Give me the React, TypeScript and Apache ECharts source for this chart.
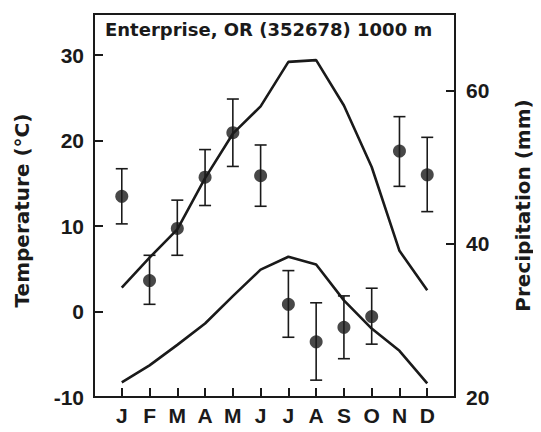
import React, { useEffect, useRef } from "react";
import * as echarts from "echarts";

const months = ["J", "F", "M", "A", "M", "J", "J", "A", "S", "O", "N", "D"];
const monthPos = [1, 2, 3, 4, 5, 6, 7, 8, 9, 10, 11, 12];
const tMax = [2.8, 6.3, 9.6, 15.6, 20.8, 24.0, 29.2, 29.4, 24.1, 16.9, 7.1, 2.5];
const tMin = [-8.3, -6.3, -3.9, -1.4, 1.8, 4.9, 6.4, 5.5, 1.3, -2.0, -4.6, -8.4];
const precip = [46.2, 35.2, 42.0, 48.7, 54.5, 48.9, 32.1, 27.2, 29.1, 30.5, 52.1, 49.0];
const precipHigh = [49.8, 38.5, 45.7, 52.3, 58.9, 52.9, 36.5, 32.3, 33.2, 34.2, 56.6, 53.9];
const precipLow = [42.6, 32.1, 38.5, 45.0, 50.1, 44.9, 27.8, 22.2, 25.0, 26.9, 47.5, 44.2];
const titleText = "Enterprise, OR (352678) 1000 m";

const FONT = "Liberation Sans, Arial, sans-serif";
const WIDE = "DejaVu Sans, Liberation Sans, sans-serif";
const INK = "#1a1a1a";

export default function App() {
  const ref = useRef<HTMLDivElement>(null);
  useEffect(() => {
    if (!ref.current) return;
    const chart = echarts.init(ref.current, undefined, { renderer: "svg" });
    const option: any = {
      animation: false,
      backgroundColor: "#ffffff",
      grid: {
        left: 94,
        right: 77,
        top: 14,
        bottom: 35,
        show: true,
        borderColor: INK,
        borderWidth: 2,
        backgroundColor: "transparent",
      },
      title: {
        text: titleText,
        left: 105,
        top: 20,
        padding: 0,
        textStyle: { fontFamily: WIDE, fontWeight: "bold", fontSize: 18, color: INK },
      },
      xAxis: {
        type: "value",
        min: 0,
        max: 13,
        axisLine: { show: true, onZero: false, lineStyle: { color: INK, width: 2 } },
        axisTick: {
          show: true,
          inside: true,
          length: 9,
          customValues: monthPos,
          lineStyle: { color: INK, width: 2 },
        },
        axisLabel: {
          customValues: monthPos,
          margin: 8,
          formatter: (v: number) => months[Math.round(v) - 1] ?? "",
          fontFamily: FONT,
          fontWeight: "bold",
          fontSize: 21,
          color: INK,
        },
        splitLine: { show: false },
      },
      yAxis: [
        {
          type: "value",
          min: -10,
          max: 34.8,
          interval: 10,
          name: "Temperature (°C)",
          nameLocation: "middle",
          nameGap: 62,
          nameTextStyle: {
            fontFamily: WIDE,
            fontWeight: "bold",
            fontSize: 20,
            color: INK,
            padding: [0, 10, 0, 0],
          },
          axisLine: { show: true, onZero: false, lineStyle: { color: INK, width: 2 } },
          axisTick: { show: true, inside: true, length: 9, lineStyle: { color: INK, width: 2 } },
          axisLabel: {
            margin: 10,
            formatter: (v: number) => (Math.abs(v % 10) < 1e-6 ? String(v) : ""),
            fontFamily: FONT,
            fontWeight: "bold",
            fontSize: 21,
            color: INK,
          },
          splitLine: { show: false },
        },
        {
          type: "value",
          min: 20,
          max: 70,
          interval: 20,
          position: "right",
          name: "Precipitation (mm)",
          nameLocation: "middle",
          nameGap: 58,
          nameRotate: 90,
          nameTextStyle: { fontFamily: WIDE, fontWeight: "bold", fontSize: 20, color: INK },
          axisLine: { show: true, onZero: false, lineStyle: { color: INK, width: 2 } },
          axisTick: { show: true, inside: true, length: 9, lineStyle: { color: INK, width: 2 } },
          axisLabel: {
            margin: 11,
            formatter: (v: number) => (Math.abs(v % 20) < 1e-6 ? String(v) : ""),
            fontFamily: FONT,
            fontWeight: "bold",
            fontSize: 21,
            color: INK,
          },
          splitLine: { show: false },
        },
      ],
      series: [
        {
          type: "line",
          yAxisIndex: 0,
          data: monthPos.map((m, i) => [m, tMax[i]]),
          showSymbol: false,
          lineStyle: { color: INK, width: 2.6 },
          z: 3,
        },
        {
          type: "line",
          yAxisIndex: 0,
          data: monthPos.map((m, i) => [m, tMin[i]]),
          showSymbol: false,
          lineStyle: { color: INK, width: 2.6 },
          z: 3,
        },
        {
          type: "custom",
          yAxisIndex: 1,
          data: monthPos.map((m, i) => [m, precipLow[i], precipHigh[i]]),
          renderItem: (params: any, api: any) => {
            const x = api.value(0);
            const lo = api.coord([x, api.value(1)]);
            const hi = api.coord([x, api.value(2)]);
            const w = 6;
            const style = { stroke: INK, lineWidth: 1.6 };
            return {
              type: "group",
              children: [
                { type: "line", shape: { x1: lo[0], y1: lo[1], x2: hi[0], y2: hi[1] }, style },
                { type: "line", shape: { x1: hi[0] - w, y1: hi[1], x2: hi[0] + w, y2: hi[1] }, style },
                { type: "line", shape: { x1: lo[0] - w, y1: lo[1], x2: lo[0] + w, y2: lo[1] }, style },
              ],
            };
          },
          z: 4,
        },
        {
          type: "scatter",
          yAxisIndex: 1,
          data: monthPos.map((m, i) => [m, precip[i]]),
          symbol: "circle",
          symbolSize: 13,
          itemStyle: { color: INK },
          z: 5,
        },
      ],
    };
    chart.setOption(option);
    return () => chart.dispose();
  }, []);
  return <div ref={ref} style={{ width: 541, height: 432, margin: -8 }} />;
}
